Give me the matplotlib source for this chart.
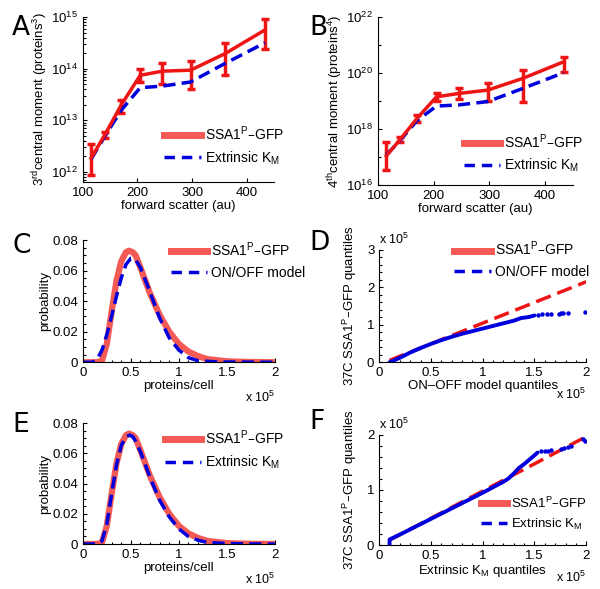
import numpy as np
import matplotlib
matplotlib.use("Agg")
import matplotlib.pyplot as plt
from matplotlib.lines import Line2D
from matplotlib.ticker import AutoMinorLocator, LogLocator, NullFormatter

plt.rcParams['font.family'] = ['Liberation Sans', 'DejaVu Sans']
plt.rcParams['mathtext.default'] = 'regular'
plt.rcParams['font.size'] = 9

RED = '#ee1515'
LRED = '#f45a55'
BLUE = '#0000dd'

# panel A/B: moments vs forward scatter (log10 values)
fsc = [115, 140, 170, 205, 245, 297, 360, 433]
m3_data = [12.26, 12.71, 13.29, 13.87, 13.95, 13.97, 14.29, 14.75]
m3_lo = [11.94, 12.66, 13.13, 13.74, 13.71, 13.61, 13.87, 14.39]
m3_hi = [12.54, 12.77, 13.39, 14.00, 14.10, 14.14, 14.50, 14.96]
m3_model = [12.24, 12.68, 13.19, 13.63, 13.66, 13.74, 14.10, 14.50]

m4_data = [17.04, 17.63, 18.38, 19.15, 19.27, 19.39, 19.81, 20.40]
m4_lo = [16.54, 17.55, 18.24, 19.00, 19.08, 18.99, 18.95, 20.04]
m4_hi = [17.55, 17.70, 18.50, 19.30, 19.46, 19.63, 20.10, 20.58]
m4_model = [17.07, 17.60, 18.30, 18.82, 18.86, 18.98, 19.45, 20.01]

# panel C/E: distributions (x in units of 1e5 proteins)
dist_x = [0, 0.15, 0.2, 0.25, 0.3, 0.35, 0.4, 0.45, 0.48, 0.52, 0.55, 0.6, 0.7,
          0.8, 0.9, 1.0, 1.1, 1.2, 1.3, 1.5, 1.7, 2.0]
dist_data = [0, 0, 0.001, 0.012, 0.033, 0.053, 0.066, 0.072, 0.073, 0.072, 0.070,
             0.062, 0.045, 0.031, 0.020, 0.012, 0.007, 0.004, 0.002, 0.0006, 0.0002, 0]
onoff_x = [0, 0.1, 0.15, 0.2, 0.25, 0.3, 0.35, 0.4, 0.45, 0.5, 0.53, 0.55, 0.6,
           0.7, 0.8, 0.9, 1.0, 1.1, 1.2, 1.4, 2.0]
onoff_y = [0, 0, 0.002, 0.008, 0.018, 0.030, 0.043, 0.055, 0.064, 0.068, 0.068,
           0.067, 0.062, 0.046, 0.029, 0.016, 0.008, 0.003, 0.001, 0.0002, 0]
extr_x = [0, 0.15, 0.2, 0.25, 0.3, 0.35, 0.4, 0.45, 0.49, 0.52, 0.55, 0.6, 0.7,
          0.8, 0.9, 1.0, 1.1, 1.2, 1.3, 1.5, 1.7, 2.0]
extr_y = [0, 0, 0.002, 0.013, 0.033, 0.052, 0.065, 0.071, 0.072, 0.071, 0.068,
          0.061, 0.044, 0.029, 0.018, 0.010, 0.005, 0.0025, 0.001, 0.0003, 0.0001, 0]

# panel D: QQ vs ON/OFF model (units of 1e5)
qqD_line_x = [0.1, 2.0]
qqD_line_y = [0.05, 2.15]
qqD_x = [0.1, 0.2, 0.3, 0.4, 0.5, 0.6, 0.7, 0.8, 0.9, 1.0, 1.1, 1.2, 1.3, 1.37, 1.45, 1.5]
qqD_y = [0.0, 0.12, 0.26, 0.38, 0.49, 0.59, 0.68, 0.76, 0.83, 0.90, 0.97, 1.04, 1.11, 1.18, 1.21, 1.25]
qqD_tail_x = [1.53, 1.57, 1.62, 1.66, 1.74, 1.76, 1.78, 1.82, 1.99]
qqD_tail_y = [1.27, 1.28, 1.28, 1.29, 1.30, 1.31, 1.31, 1.32, 1.33]

# panel F: QQ vs extrinsic KM
qqF_line_x = [0.1, 2.0]
qqF_line_y = [0.09, 1.97]
qqF_x = [0.1, 0.1, 0.2, 0.4, 0.6, 0.8, 1.0, 1.1, 1.2, 1.25, 1.3, 1.35, 1.4, 1.45, 1.5, 1.53]
qqF_y = [0.0, 0.1, 0.19, 0.38, 0.57, 0.76, 0.95, 1.05, 1.15, 1.21, 1.30, 1.40, 1.47, 1.55, 1.63, 1.68]
qqF_tail_x = [1.56, 1.6, 1.63, 1.66, 1.76, 1.79, 1.82, 1.85, 1.97, 1.99]
qqF_tail_y = [1.70, 1.70, 1.71, 1.72, 1.75, 1.76, 1.78, 1.80, 1.92, 1.89]

fig = plt.figure(figsize=(6, 5.89), dpi=100)


def style(ax):
    for s in ['top', 'right']:
        ax.spines[s].set_visible(False)
    ax.tick_params(direction='in', which='both', length=3, width=0.8, labelsize=9.5)
    ax.tick_params(which='minor', length=1.8)


def leg(ax, labels, loc, hl=2.6, fs=10, **kw):
    hs = [Line2D([], [], color=LRED, lw=5),
          Line2D([], [], color=BLUE, lw=2.5, ls=(0, (3, 2)))]
    ax.legend(hs, labels, loc=loc, frameon=False, handlelength=hl,
              fontsize=fs, handletextpad=0.3, labelspacing=0.45,
              borderaxespad=0, **kw)


# ---- A ----
axA = fig.add_axes([0.138, 0.691, 0.319, 0.28])
y = 10 ** np.array(m3_data)
axA.errorbar(fsc, y, yerr=[y - 10 ** np.array(m3_lo), 10 ** np.array(m3_hi) - y],
             color=RED, lw=2.5, capsize=3, capthick=2.5, elinewidth=2.5)
axA.plot(fsc, 10 ** np.array(m3_model), color=BLUE, lw=2.5, ls=(0, (3.5, 1.8)))
axA.set_yscale('log')
axA.set_ylim(10 ** 11.8, 1e15)
axA.set_xlim(100, 450)
axA.set_xticks([100, 200, 300, 400])
axA.set_yticks([1e12, 1e13, 1e14, 1e15])
axA.yaxis.set_minor_locator(LogLocator(subs=np.arange(2, 10)))
axA.yaxis.set_minor_formatter(NullFormatter())
axA.set_xlabel('forward scatter (au)', fontsize=9.5, labelpad=1)
axA.set_ylabel('3$^{rd}$central moment (proteins$^3$)', fontsize=9.5, labelpad=1)
style(axA)
leg(axA, ['SSA1$^P$–GFP', 'Extrinsic K$_M$'], 'lower right', bbox_to_anchor=(1.08, 0.06))

# ---- B ----
axB = fig.add_axes([0.63, 0.686, 0.325, 0.285])
y = 10 ** np.array(m4_data)
axB.errorbar(fsc, y, yerr=[y - 10 ** np.array(m4_lo), 10 ** np.array(m4_hi) - y],
             color=RED, lw=2.5, capsize=3, capthick=2.5, elinewidth=2.5)
axB.plot(fsc, 10 ** np.array(m4_model), color=BLUE, lw=2.5, ls=(0, (3.5, 1.8)))
axB.set_yscale('log')
axB.set_ylim(1e16, 1e22)
axB.set_xlim(100, 450)
axB.set_xticks([100, 200, 300, 400])
axB.set_yticks([1e16, 1e18, 1e20, 1e22])
axB.yaxis.set_minor_locator(LogLocator(subs=[1.0], numticks=20))
axB.yaxis.set_minor_formatter(NullFormatter())
axB.set_xlabel('forward scatter (au)', fontsize=9.5, labelpad=1)
axB.set_ylabel('4$^{th}$central moment (proteins$^4$)', fontsize=9.5, labelpad=1)
style(axB)
leg(axB, ['SSA1$^P$–GFP', 'Extrinsic K$_M$'], 'lower right', bbox_to_anchor=(1.08, 0.03))


def dist_axes(rect, mx, my, label, anchor):
    ax = fig.add_axes(rect)
    ax.plot(dist_x, dist_data, color=LRED, lw=4.5, solid_capstyle='butt')
    ax.plot(mx, my, color=BLUE, lw=2.5, ls=(0, (3.5, 1.8)))
    ax.set_xlim(0, 2)
    ax.set_ylim(0, 0.08)
    ax.set_xticks([0, 0.5, 1, 1.5, 2])
    ax.set_xticklabels(['0', '0.5', '1', '1.5', '2'])
    ax.set_yticks([0, 0.02, 0.04, 0.06, 0.08])
    ax.set_yticklabels(['0', '0.02', '0.04', '0.06', '0.08'])
    ax.xaxis.set_minor_locator(AutoMinorLocator(5))
    ax.yaxis.set_minor_locator(AutoMinorLocator(4))
    ax.set_xlabel('proteins/cell', fontsize=9.5, labelpad=1)
    ax.set_ylabel('probability', fontsize=9.5, labelpad=1)
    ax.text(1.0, -0.29, 'x 10$^5$', transform=ax.transAxes, ha='right', va='center', fontsize=9)
    style(ax)
    leg(ax, ['SSA1$^P$–GFP', label], 'upper right', bbox_to_anchor=anchor)
    return ax


def qq_axes(rect, lx, ly, qx, qy, tx, ty, ymax, xlabel, labels, loc, anchor, hl, fs):
    ax = fig.add_axes(rect)
    ax.plot(lx, ly, color=RED, lw=2.5, ls=(0, (4.5, 2)))
    ax.plot(qx, qy, color=BLUE, lw=2.8, solid_capstyle='round')
    ax.plot(tx, ty, ls='none', marker='o', ms=2.2, color=BLUE)
    ax.set_xlim(0, 2)
    ax.set_ylim(0, ymax)
    ax.set_xticks([0, 0.5, 1, 1.5, 2])
    ax.set_xticklabels(['0', '0.5', '1', '1.5', '2'])
    ax.set_yticks(range(ymax + 1))
    ax.xaxis.set_minor_locator(AutoMinorLocator(5))
    ax.yaxis.set_minor_locator(AutoMinorLocator(5))
    ax.set_xlabel(xlabel, fontsize=9.5, labelpad=1)
    ax.set_ylabel('37C SSA1$^P$–GFP quantiles', fontsize=9.5, labelpad=6)
    ax.text(0.0, 1.03, 'x 10$^5$', transform=ax.transAxes, ha='left', va='bottom', fontsize=9)
    ax.text(1.0, -0.29, 'x 10$^5$', transform=ax.transAxes, ha='right', va='center', fontsize=9)
    style(ax)
    leg(ax, labels, loc, hl=hl, fs=fs, bbox_to_anchor=anchor)
    return ax


dist_axes([0.138, 0.385, 0.32, 0.2075], onoff_x, onoff_y, 'ON/OFF model', (1.19, 1.04))
qq_axes([0.632, 0.385, 0.345, 0.1906], qqD_line_x, qqD_line_y, qqD_x, qqD_y,
        qqD_tail_x, qqD_tail_y, 3, 'ON–OFF model quantiles',
        ['SSA1$^P$–GFP', 'ON/OFF model'], 'upper right', (1.04, 1.14), 2.6, 10)
dist_axes([0.138, 0.0764, 0.32, 0.2054], extr_x, extr_y, 'Extrinsic K$_M$', (1.08, 1.0))
qq_axes([0.632, 0.0747, 0.345, 0.1868], qqF_line_x, qqF_line_y, qqF_x, qqF_y,
        qqF_tail_x, qqF_tail_y, 2, 'Extrinsic K$_M$ quantiles',
        ['SSA1$^P$–GFP', 'Extrinsic K$_M$'], 'lower right', (1.03, 0.07), 2.0, 9.5)

for lab, x, yy in [('A', 0.02, 0.975), ('B', 0.515, 0.975), ('C', 0.02, 0.605),
                   ('D', 0.515, 0.61), ('E', 0.02, 0.3), ('F', 0.515, 0.305)]:
    fig.text(x, yy, lab, fontsize=19, family='DejaVu Sans', ha='left', va='top')

fig.savefig('out.png', dpi=100)
